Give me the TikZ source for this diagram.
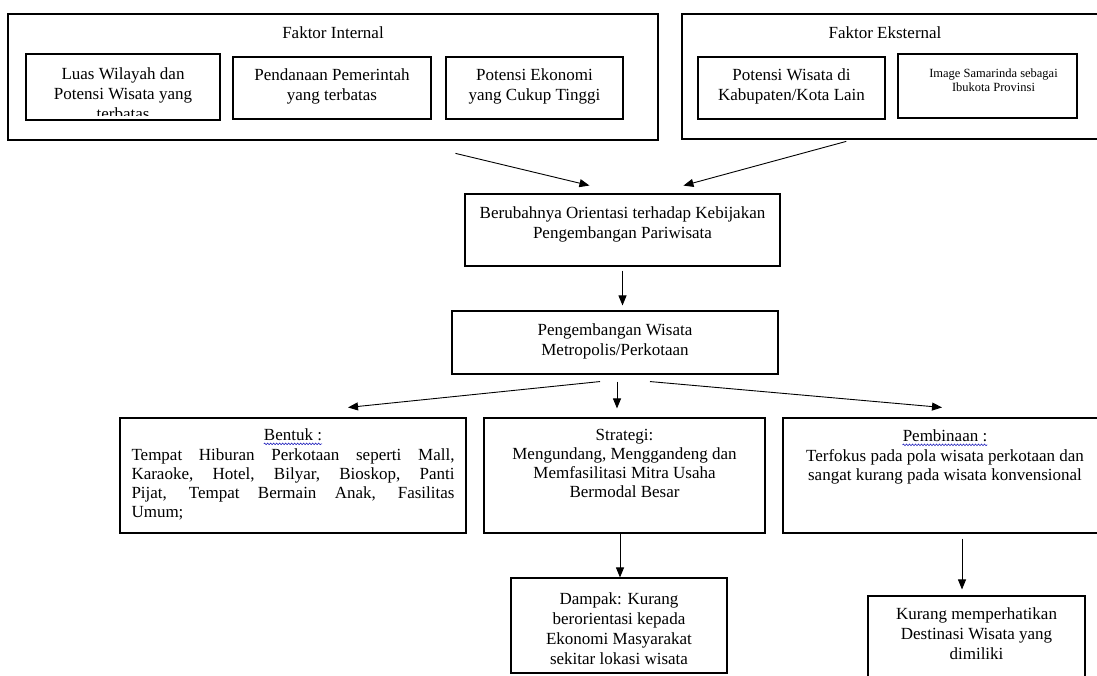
\documentclass[tikz,border=0pt]{standalone}
\usepackage{fontspec}
\setmainfont{Liberation Serif}
\usetikzlibrary{positioning,arrows.meta,decorations.pathmorphing}

\newcommand{\mainsz}{\fontsize{17}{20}\selectfont}
\newcommand{\rowsz}{\fontsize{17}{19}\selectfont}
\newcommand{\smallsz}{\fontsize{12.5}{14}\selectfont}

\begin{document}
\begin{tikzpicture}[x=1pt, y=-1pt,
    box/.style={draw, line width=1.1pt, inner sep=0pt},
    txt/.style={align=center, inner sep=0pt, font=\mainsz},
    arr/.style={-{Triangle[length=10pt,width=8pt]}, line width=0.9pt},
    wave/.style={blue!70!black, line width=0.5pt, decorate,
        decoration={snake, segment length=3pt, amplitude=0.8pt}}]
    \useasboundingbox (0,0) rectangle (1097,675);
    \clip (0,0) rectangle (1097,675);

    % faktor internal
    \node[box, minimum width=650, minimum height=126] (fi) at (333,77) {};
    \node[txt] (fititle) at (333,33) {Faktor Internal};
    \node[box, minimum width=194, minimum height=66] (luas) at (123,87) {};
    \begin{scope}
        \clip (luas.north west) rectangle ([yshift=5pt]luas.south east);
        \node[txt, below=12pt of luas.north] (luastxt) {\strut Luas Wilayah dan\\Potensi Wisata yang\\terbatas};
    \end{scope}
    \node[box, minimum width=198, minimum height=62] (dana) at (332,88) {};
    \node[txt, below=10pt of dana.north] (danatxt) {\strut Pendanaan Pemerintah\\yang terbatas};
    \node[box, minimum width=177, minimum height=62] (ekon) at (534.5,88) {};
    \node[txt, below=10pt of ekon.north] (ekontxt) {\strut Potensi Ekonomi\\yang Cukup Tinggi};

    % faktor eksternal
    \node[box, minimum width=430, minimum height=125] (fe) at (897,76.5) {};
    \node[txt] (fetitle) at (885,33) {Faktor Eksternal};
    \node[box, minimum width=187, minimum height=62] (wisata) at (791.5,88) {};
    \node[txt, below=10pt of wisata.north] (wisatatxt) {\strut Potensi Wisata di\\Kabupaten/Kota Lain};
    \node[box, minimum width=179, minimum height=64] (image) at (987.5,86) {};
    \node[txt, font=\smallsz, below=14pt of image.north, xshift=6pt] (imagetxt) {\strut Image Samarinda sebagai\\Ibukota Provinsi};

    % kebijakan
    \node[box, minimum width=315, minimum height=72] (orient) at (622.5,230) {};
    \node[txt, below=11pt of orient.north] (orienttxt) {\strut Berubahnya Orientasi terhadap Kebijakan\\Pengembangan Pariwisata};
    \node[box, minimum width=326, minimum height=63] (metro) at (615,342.5) {};
    \node[txt, below=11pt of metro.north] (metrotxt) {\strut Pengembangan Wisata\\Metropolis/Perkotaan};

    % bentuk, strategi, pembinaan
    \node[box, minimum width=346, minimum height=115] (bentuk) at (293,475.5) {};
    \node[txt, font=\rowsz, below=10pt of bentuk.north] (bentukhead) {\strut Bentuk :};
    \node[txt, font=\rowsz, text width=323pt, align=justify, below=0pt of bentukhead] (bentuktxt)
        {\strut Tempat Hiburan Perkotaan seperti Mall,\linebreak Karaoke, Hotel, Bilyar, Bioskop, Panti\linebreak Pijat, Tempat Bermain Anak, Fasilitas\linebreak Umum;};
    \draw[wave] ([yshift=3pt]bentukhead.south west) -- ([yshift=3pt]bentukhead.south east);
    \node[box, minimum width=281, minimum height=115] (strategi) at (624.5,475.5) {};
    \node[txt, font=\rowsz, below=10pt of strategi.north] (strategitxt) {\strut Strategi:\\Mengundang, Menggandeng dan\\Memfasilitasi Mitra Usaha\\Bermodal Besar};
    \node[box, minimum width=324, minimum height=115] (bina) at (945,475.5) {};
    \node[txt, font=\rowsz, below=11pt of bina.north] (binahead) {\strut Pembinaan :};
    \node[txt, font=\rowsz, below=0pt of binahead] (binatxt) {\strut Terfokus pada pola wisata perkotaan dan\\sangat kurang pada wisata konvensional};
    \draw[wave] ([yshift=3pt]binahead.south west) -- ([yshift=3pt]binahead.south east);

    % dampak
    \node[box, minimum width=216, minimum height=95] (dampak) at (619,625.5) {};
    \node[txt, below=13pt of dampak.north] (dampaktxt) {\strut Dampak: Kurang\\berorientasi kepada\\Ekonomi Masyarakat\\sekitar lokasi wisata};
    \node[box, minimum width=217, minimum height=100] (kurang) at (976.5,646) {};
    \node[txt, below=10pt of kurang.north] (kurangtxt) {\strut Kurang memperhatikan\\Destinasi Wisata yang\\dimiliki};

    % arrows
    \draw[arr, shorten <=55pt, shorten >=34pt] ([xshift=69pt]fi.south) -- (orient.north);
    \draw[arr, shorten <=7pt, shorten >=30pt] ([xshift=-44pt]fe.south) -- ([xshift=32pt]orient.north);
    \draw[arr, shorten <=4pt, shorten >=5pt] (orient.south) -- (orient.south |- metro.north);
    \draw[arr] ([xshift=-15pt,yshift=-7pt]metro.south) -- ([xshift=55pt,yshift=10pt]bentuk.north);
    \draw[arr] ([xshift=2pt,yshift=-7pt]metro.south) -- ([xshift=2pt,yshift=9pt]metro.south |- strategi.north);
    \draw[arr] ([xshift=35pt,yshift=-7pt]metro.south) -- ([xshift=-3pt,yshift=10pt]bina.north);
    \draw[arr] ([xshift=1pt]dampak.north |- strategi.south) -- ([xshift=1pt]dampak.north);
    \draw[arr, shorten <=5pt, shorten >=6pt] ([xshift=17pt]bina.south) -- ([xshift=17pt]bina.south |- kurang.north);
\end{tikzpicture}
\end{document}
